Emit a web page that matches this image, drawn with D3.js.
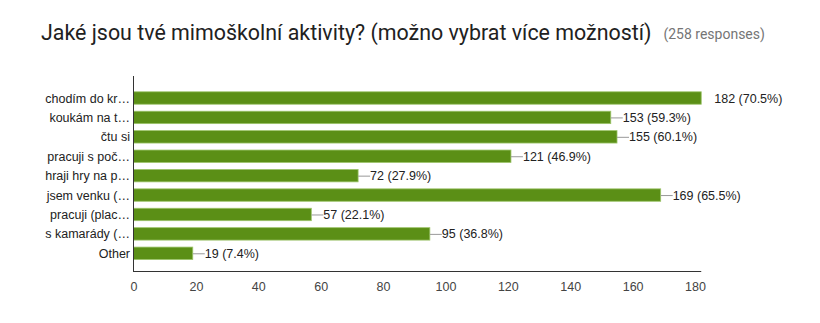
<!DOCTYPE html>
<html><head><meta charset="utf-8">
<script src="https://cdn.jsdelivr.net/npm/d3@7"></script>
<style>body{margin:0;background:#fff}</style>
</head><body>
<svg id="c" width="820" height="323"></svg>
<script>
const title = "Jaké jsou tvé mimoškolní aktivity? (možno vybrat více možností)";
const responsesLabel = "(258 responses)";
const categories = ["chodím do kr…","koukám na t…","čtu si","pracuji s poč…","hraji hry na p…","jsem venku (…","pracuji (plac…","s kamarády (…","Other"];
const counts = [182,153,155,121,72,169,57,95,19];
const percents = ["70.5%","59.3%","60.1%","46.9%","27.9%","65.5%","22.1%","36.8%","7.4%"];
const xTicks = [0,20,40,60,80,100,120,140,160,180];

const svg = d3.select("#c");
svg.append("rect").attr("width",820).attr("height",323).attr("fill","#fff");

const t = svg.append("text").attr("x",41).attr("y",40)
  .attr("font-family","Roboto").attr("font-size",21.4).attr("fill","#212121").text(title);
const tw = t.node().getComputedTextLength();
svg.append("text").attr("x",41+tw+12).attr("y",39)
  .attr("font-family","Roboto").attr("font-size",14).attr("fill","#757575").text(responsesLabel);

const x0 = 133.5;
const x = d3.scaleLinear().domain([0,180]).range([x0,695]);
const y = d3.scaleBand().domain(categories).range([88.3,263]).paddingInner(0.36).paddingOuter(0.18);
const axisY = 271.5;
const maxV = d3.max(counts);

const font = "Arial, 'Liberation Sans', sans-serif";

// bars
categories.forEach((c,i)=>{
  const v = counts[i];
  const xe = x(v);
  svg.append("rect").attr("x",x(0)).attr("y",y(c)).attr("width",xe-x(0)).attr("height",y.bandwidth())
    .attr("fill","#5b8f16").attr("stroke","#9cc46a").attr("stroke-width",0.8);
  const cy = y(c)+y.bandwidth()/2;
  if (v !== maxV) {
    svg.append("line").attr("x1",xe).attr("x2",xe+12).attr("y1",cy+0.5).attr("y2",cy+0.5)
      .attr("stroke","#999").attr("stroke-width",1);
  }
  svg.append("text").attr("x", v !== maxV ? xe+12 : xe+13).attr("y",cy+4.5)
    .attr("font-family",font).attr("font-size",12.5).attr("fill","#222")
    .text(v+" ("+percents[i]+")");
  svg.append("text").attr("x",130).attr("y",cy+4.5).attr("text-anchor","end")
    .attr("font-family",font).attr("font-size",12.5).attr("fill","#222").text(c);
});

// axes lines
svg.append("line").attr("x1",x0).attr("x2",x0).attr("y1",76).attr("y2",axisY+0.5)
  .attr("stroke","#333").attr("stroke-width",1);
svg.append("line").attr("x1",x0-0.5).attr("x2",x(maxV)).attr("y1",axisY).attr("y2",axisY)
  .attr("stroke","#333").attr("stroke-width",1);

// tick labels
const ax = svg.append("g").attr("transform",`translate(0,${axisY})`)
  .call(d3.axisBottom(x).tickValues(xTicks).tickSize(0).tickPadding(11));
ax.select(".domain").remove();
ax.selectAll("text").attr("font-family",font).attr("font-size",12.5).attr("fill","#444");
</script>
</body></html>
